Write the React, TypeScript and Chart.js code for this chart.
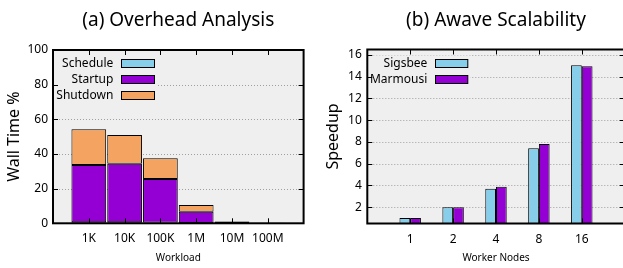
import React, { useEffect, useRef } from 'react';
import { Chart, registerables } from 'chart.js';

Chart.register(...registerables);

// ---------- data ----------
const workloads = ['1K', '10K', '100K', '1M', '10M', '100M'];
const schedule = [0.6, 0.6, 0.4, 0.2, 0.2, 0.1];
const startup = [33.0, 33.8, 25.1, 6.5, 0.8, 0.1];
const shutdown = [20.7, 16.6, 12.0, 3.8, 0.2, 0.05];
const overheadTicks = [0, 20, 40, 60, 80, 100];

const workerNodes = ['1', '2', '4', '8', '16'];
const sigsbee = [1.0, 2.0, 3.7, 7.43, 15.05];
const marmousi = [1.0, 2.0, 3.87, 7.82, 14.96];
const speedupTicks = [2, 4, 6, 8, 10, 12, 14, 16];

// ---------- style ----------
const FONT = '"Noto Sans", "Open Sans", sans-serif';
const SKY = '#87ceeb';
const VIOLET = '#9400d3';
const SANDY = '#f4a460';

type KeyEntry = { label: string; color: string };
type Deco = {
  title: string;
  keys: KeyEntry[];
  keyTextDx: number;
  keySwDx: number;
  keySwW: number;
  keyRow0: number;
  keyRowStep: number;
  keyBg: [number, number, number, number];
  gridTicks: number[];
  xTicks: number[];
};

function makeDeco(d: Deco) {
  return {
    id: 'deco',
    beforeDraw(chart: any) {
      const { ctx, chartArea: a } = chart;
      ctx.save();
      ctx.fillStyle = '#efefef';
      ctx.fillRect(a.left, a.top, a.right - a.left, a.bottom - a.top);
      ctx.fillStyle = '#000';
      ctx.font = `19px ${FONT}`;
      ctx.textAlign = 'center';
      ctx.textBaseline = 'alphabetic';
      ctx.fillText(d.title, (a.left + a.right) / 2, 25.5);
      ctx.restore();
    },
    beforeDatasetsDraw(chart: any) {
      const { ctx, chartArea: a, scales } = chart;
      const y = scales.y;
      ctx.save();
      ctx.strokeStyle = '#a0a0a0';
      ctx.lineWidth = 1;
      ctx.setLineDash([1, 2]);
      for (const v of d.gridTicks) {
        if (v <= y.min || v >= y.max) continue;
        const py = Math.round(y.getPixelForValue(v)) + 0.5;
        ctx.beginPath();
        ctx.moveTo(a.left, py);
        ctx.lineTo(a.right, py);
        ctx.stroke();
      }
      ctx.setLineDash([]);
      ctx.fillStyle = '#efefef';
      const [bx, by, bw, bh] = d.keyBg;
      ctx.fillRect(a.left + bx, a.top + by, bw, bh);
      ctx.restore();
    },
    afterDatasetsDraw(chart: any) {
      const { ctx, chartArea: a, scales } = chart;
      const x = scales.x;
      const y = scales.y;
      ctx.save();
      ctx.strokeStyle = '#000';
      ctx.lineWidth = 1;
      const tl = 5;
      for (const v of d.gridTicks) {
        const py = Math.round(y.getPixelForValue(v)) + 0.5;
        ctx.beginPath();
        ctx.moveTo(a.left, py);
        ctx.lineTo(a.left + tl, py);
        ctx.moveTo(a.right, py);
        ctx.lineTo(a.right - tl, py);
        ctx.stroke();
      }
      for (const v of d.xTicks) {
        const px = Math.round(x.getPixelForValue(v)) + 0.5;
        ctx.beginPath();
        ctx.moveTo(px, a.top);
        ctx.lineTo(px, a.top + tl);
        ctx.moveTo(px, a.bottom);
        ctx.lineTo(px, a.bottom - tl);
        ctx.stroke();
      }
      ctx.lineWidth = 2;
      ctx.strokeRect(a.left, a.top, a.right - a.left, a.bottom - a.top);
      // key
      ctx.font = `12px ${FONT}`;
      ctx.textAlign = 'right';
      ctx.textBaseline = 'middle';
      ctx.lineWidth = 1;
      d.keys.forEach((k, i) => {
        const ry = a.top + d.keyRow0 + i * d.keyRowStep;
        ctx.fillStyle = '#000';
        ctx.fillText(k.label, a.left + d.keyTextDx, ry);
        const sx = Math.round(a.left + d.keySwDx) + 0.5;
        const sy = Math.round(ry - 4) + 0.5;
        ctx.fillStyle = k.color;
        ctx.fillRect(sx, sy, d.keySwW, 8);
        ctx.strokeStyle = '#000';
        ctx.strokeRect(sx, sy, d.keySwW, 8);
      });
      ctx.restore();
    },
  };
}

const tickFont = { family: FONT, size: 12 };
const setTicks = (vals: number[]) => (s: any) => {
  s.ticks = vals.map((v) => ({ value: v }));
};

function overheadConfig(): any {
  const ds = (label: string, vals: number[], color: string) => ({
    label,
    data: vals.map((v, i) => ({ x: i, y: v })),
    backgroundColor: color,
    borderColor: '#000',
    borderWidth: 1,
    borderSkipped: false,
    barPercentage: 0.97,
    categoryPercentage: 1,
  });
  return {
    type: 'bar',
    data: {
      datasets: [
        ds('Schedule', schedule, SKY),
        ds('Startup', startup, VIOLET),
        ds('Shutdown', shutdown, SANDY),
      ],
    },
    options: {
      responsive: false,
      animation: false,
      layout: { padding: { top: 50, right: 6.4, left: 0, bottom: 0 } },
      plugins: { legend: { display: false }, tooltip: { enabled: false }, title: { display: false } },
      scales: {
        x: {
          type: 'linear',
          min: -1,
          max: 6,
          offset: false,
          stacked: true,
          grid: { display: false, drawTicks: false },
          border: { display: false },
          afterBuildTicks: setTicks(workloads.map((_, i) => i)),
          afterFit: (s: any) => { s.height = 44.7; },
          ticks: {
            callback: (v: number) => workloads[v] ?? '',
            padding: 8.5,
            font: tickFont,
            color: '#000',
            maxRotation: 0,
            autoSkip: false,
          },
          title: { display: true, text: 'Workload', font: { family: FONT, size: 10 }, color: '#000', padding: { top: 0, bottom: 4 } },
        },
        y: {
          type: 'linear',
          min: 0,
          max: 100,
          stacked: true,
          grid: { display: false, drawTicks: false },
          border: { display: false },
          afterBuildTicks: setTicks(overheadTicks),
          afterFit: (s: any) => { s.width = 53; },
          ticks: { padding: 5, font: tickFont, color: '#000' },
          title: { display: true, text: 'Wall Time %', font: { family: FONT, size: 16 }, color: '#000', padding: { top: 5, bottom: 0 } },
        },
      },
    },
    plugins: [
      makeDeco({
        title: '(a) Overhead Analysis',
        keys: [
          { label: 'Schedule', color: SKY },
          { label: 'Startup', color: VIOLET },
          { label: 'Shutdown', color: SANDY },
        ],
        keyTextDx: 60.3,
        keySwDx: 67.7,
        keySwW: 33,
        keyRow0: 13.3,
        keyRowStep: 16,
        keyBg: [1, 5, 104, 49],
        gridTicks: overheadTicks,
        xTicks: workloads.map((_, i) => i),
      }),
    ],
  };
}

function speedupConfig(): any {
  const ds = (label: string, vals: number[], color: string) => ({
    label,
    data: vals.map((v, i) => ({ x: i, y: v })),
    backgroundColor: color,
    borderColor: '#000',
    borderWidth: 1,
    borderSkipped: false,
    barPercentage: 1,
    categoryPercentage: 0.5,
  });
  return {
    type: 'bar',
    data: {
      datasets: [ds('Sigsbee', sigsbee, SKY), ds('Marmousi', marmousi, VIOLET)],
    },
    options: {
      responsive: false,
      animation: false,
      layout: { padding: { top: 49.5, right: 5.3, left: 0, bottom: 0 } },
      plugins: { legend: { display: false }, tooltip: { enabled: false }, title: { display: false } },
      scales: {
        x: {
          type: 'linear',
          min: -1,
          max: 5,
          offset: false,
          grid: { display: false, drawTicks: false },
          border: { display: false },
          afterBuildTicks: setTicks(workerNodes.map((_, i) => i)),
          afterFit: (s: any) => { s.height = 44.5; },
          ticks: {
            callback: (v: number) => workerNodes[v] ?? '',
            padding: 8.5,
            font: tickFont,
            color: '#000',
            maxRotation: 0,
            autoSkip: false,
          },
          title: { display: true, text: 'Worker Nodes', font: { family: FONT, size: 10 }, color: '#000', padding: { top: 0, bottom: 4 } },
        },
        y: {
          type: 'linear',
          min: 0.5,
          max: 16.5,
          grid: { display: false, drawTicks: false },
          border: { display: false },
          afterBuildTicks: setTicks(speedupTicks),
          afterFit: (s: any) => { s.width = 57.3; },
          ticks: { padding: 5.5, font: tickFont, color: '#000' },
          title: { display: true, text: 'Speedup', font: { family: FONT, size: 16 }, color: '#000', padding: { top: 14, bottom: 0 } },
        },
      },
    },
    plugins: [
      makeDeco({
        title: '(b) Awave Scalability',
        keys: [
          { label: 'Sigsbee', color: SKY },
          { label: 'Marmousi', color: VIOLET },
        ],
        keyTextDx: 60,
        keySwDx: 67.7,
        keySwW: 32.3,
        keyRow0: 13.8,
        keyRowStep: 16,
        keyBg: [1, 6, 102, 32],
        gridTicks: speedupTicks,
        xTicks: workerNodes.map((_, i) => i),
      }),
    ],
  };
}

function ChartCanvas({ config, left, width }: { config: () => any; left: number; width: number }) {
  const ref = useRef<HTMLCanvasElement | null>(null);
  useEffect(() => {
    if (!ref.current) return;
    const chart = new Chart(ref.current, config());
    return () => chart.destroy();
  }, []);
  return (
    <canvas
      ref={ref}
      width={width}
      height={268}
      style={{ position: 'absolute', left, top: 0, width, height: 268 }}
    />
  );
}

export default function App() {
  return (
    <div
      style={{
        position: 'fixed',
        left: 0,
        top: 0,
        width: 623,
        height: 268,
        overflow: 'hidden',
        background: '#fff',
      }}
    >
      <ChartCanvas config={overheadConfig} left={0} width={310} />
      <ChartCanvas config={speedupConfig} left={310} width={320} />
    </div>
  );
}
